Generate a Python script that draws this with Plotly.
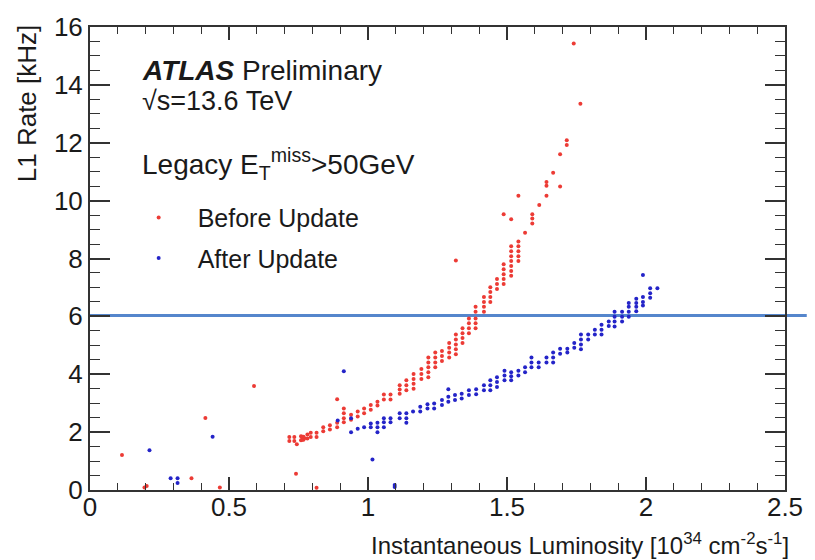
import plotly.graph_objects as go

# ---------------- data ----------------
# Before Update (red): x column positions and the rates observed at each
red_col_x = [0.115, 0.196, 0.204, 0.365, 0.415, 0.467, 0.590, 0.717, 0.735, 0.741,
             0.744, 0.759, 0.763, 0.768, 0.771, 0.782, 0.794, 0.815, 0.839, 0.863,
             0.889, 0.913, 0.939, 0.963, 0.986, 1.010, 1.034, 1.057, 1.081, 1.114,
             1.138, 1.164, 1.192, 1.217, 1.242, 1.266, 1.292, 1.316, 1.340, 1.363,
             1.387, 1.417, 1.440, 1.464, 1.488, 1.515, 1.541, 1.565, 1.591, 1.616,
             1.642, 1.666, 1.691, 1.715, 1.740, 1.764]
red_col_y = [[1.21], [0.09], [0.14], [0.41], [2.49], [0.09], [3.59], [1.83, 1.69], [1.83, 1.69], [0.56],
             [1.58], [1.86, 1.72], [1.84, 1.74], [1.84, 1.74], [1.79], [1.92, 1.78], [1.98, 1.83], [1.98, 1.83, 0.08], [2.17, 2.03], [2.24, 2.09],
             [3.14, 2.32, 2.17], [2.82, 2.65, 2.48, 2.34], [2.60, 2.43], [2.71, 2.54], [2.82, 2.65], [2.94, 2.77], [3.05, 2.92], [3.30, 3.13], [3.30, 3.13], [3.62, 3.47, 3.33],
             [3.79, 3.62, 3.45], [4.01, 3.84, 3.67, 3.50], [4.18, 4.01, 3.84], [4.58, 4.41, 4.24, 4.07, 3.90], [4.75, 4.58, 4.41, 4.24], [4.80, 4.63, 4.46], [5.08, 4.92, 4.75, 4.58], [7.93, 5.37, 5.20, 5.03, 4.86, 4.69], [5.59, 5.42, 5.25, 5.08], [5.93, 5.76, 5.59, 5.42],
             [6.33, 6.16, 5.93, 5.76, 5.59], [6.67, 6.50, 6.33, 6.16], [7.01, 6.84, 6.67, 6.50], [7.29, 7.12, 6.95], [9.53, 7.80, 7.63, 7.46, 7.29, 7.12], [9.36, 8.42, 8.25, 8.08, 7.91, 7.74, 7.57, 7.40], [10.17, 8.59, 8.42, 8.25, 8.08, 7.91], [8.89], [9.53, 9.38, 9.21], [9.85],
             [10.64, 10.51, 10.17], [10.96], [11.60, 10.49], [12.09, 11.92], [15.43], [13.35]]

# After Update (blue)
blue_col_x = [0.214, 0.290, 0.315, 0.441, 0.891, 0.913, 0.939, 0.963, 0.986, 1.010,
              1.016, 1.034, 1.057, 1.081, 1.096, 1.114, 1.138, 1.162, 1.188, 1.214,
              1.238, 1.266, 1.289, 1.313, 1.337, 1.363, 1.389, 1.417, 1.440, 1.464,
              1.491, 1.515, 1.541, 1.565, 1.588, 1.614, 1.642, 1.666, 1.691, 1.717,
              1.742, 1.766, 1.792, 1.816, 1.840, 1.866, 1.887, 1.914, 1.938, 1.965,
              1.989, 2.015, 2.041]
blue_col_y = [[1.37], [0.41], [0.41, 0.24], [1.84], [2.40], [4.10], [2.48, 2.00], [2.12], [2.17], [2.30, 2.17],
              [1.05], [2.32, 2.17, 2.00], [2.48, 2.34, 2.17], [2.48, 2.34], [0.17, 0.10], [2.65, 2.48], [2.65, 2.48, 2.32], [2.71], [2.88, 2.71], [2.96, 2.82],
              [2.99, 2.82], [3.11, 2.94], [3.48, 3.22, 3.05], [3.28, 3.11], [3.33, 3.16], [3.45, 3.28], [3.48, 3.31], [3.62, 3.45], [3.79, 3.62, 3.45], [3.90, 3.73, 3.56],
              [4.12, 3.96, 3.79], [4.07, 3.93, 3.79], [4.12, 3.96], [4.24, 4.07], [4.58, 4.41, 4.24], [4.41, 4.24], [4.58, 4.41], [4.75, 4.58, 4.41], [4.88, 4.71], [4.88, 4.75],
              [5.08, 4.92], [5.37, 5.20, 5.03, 4.86], [5.37, 5.20], [5.54, 5.37], [5.71, 5.54, 5.37], [5.82, 5.67], [6.16, 5.99, 5.82, 5.65], [6.16, 5.99, 5.82], [6.46, 6.33, 6.16, 5.99], [6.61, 6.46, 6.33, 6.18],
              [7.43, 6.67, 6.50, 6.38], [6.97, 6.80, 6.64], [6.97]]

# reference rate line
rate_line_y = 6.03

x_ticks = [0, 0.5, 1, 1.5, 2, 2.5]
x_tick_text = ["0", "0.5", "1", "1.5", "2", "2.5"]
y_ticks = [0, 2, 4, 6, 8, 10, 12, 14, 16]
y_tick_text = ["0", "2", "4", "6", "8", "10", "12", "14", "16"]


def flatten(cx, cy):
    xs, ys = [], []
    for x, col in zip(cx, cy):
        for y in col:
            xs.append(x)
            ys.append(y)
    return xs, ys


red_x, red_y = flatten(red_col_x, red_col_y)
blue_x, blue_y = flatten(blue_col_x, blue_col_y)

# ---------------- layout helpers ----------------
W, H = 815, 560
L, R, T, B = 90, 793, 18, 490


def px(x):
    return (x - L) / (R - L)


def py(y):
    return (B - y) / (B - T)


FONT = "Liberation Sans, Arial, sans-serif"
TXT = "#1a1a1a"

fig = go.Figure()
fig.add_trace(go.Scatter(x=red_x, y=red_y, mode="markers", name="Before Update",
                         legendgroup="a",
                         marker=dict(color="#ec3b35", size=4, symbol="circle", line=dict(width=0))))
fig.add_trace(go.Scatter(x=blue_x, y=blue_y, mode="markers", name="After Update",
                         legendgroup="b",
                         marker=dict(color="#2424c8", size=4, symbol="circle", line=dict(width=0))))

fig.add_shape(type="line", xref="paper", yref="y", x0=0, x1=(W - L) / (R - L),
              y0=rate_line_y, y1=rate_line_y, layer="below",
              line=dict(color="#5586cc", width=3))

axis_common = dict(showgrid=False, zeroline=False, showline=True, mirror="ticks",
                   linecolor="#333", linewidth=2, ticks="inside", tickcolor="#333",
                   tickwidth=1.5, tickfont=dict(family=FONT, size=26, color=TXT))

fig.update_xaxes(range=[0, 2.5], tickmode="array", tickvals=x_ticks, ticktext=x_tick_text,
                 ticklen=13, ticklabelstandoff=-7,
                 minor=dict(dtick=0.1, ticks="inside", ticklen=7, tickcolor="#333", tickwidth=1.2, showgrid=False),
                 **axis_common)
fig.update_yaxes(range=[0, 16], tickmode="array", tickvals=y_ticks, ticktext=y_tick_text,
                 ticklen=20, minor=dict(dtick=0.5, ticks="inside", ticklen=10, tickcolor="#333", tickwidth=1.2, showgrid=False),
                 **axis_common)

ann = [
    dict(text="<b><i>ATLAS</i></b> Preliminary", x=px(141), y=py(62), size=28),
    dict(text="√s=13.6 TeV", x=px(141), y=py(93), size=27),
    dict(text="Legacy E<sub>T</sub><sup>miss</sup>>50GeV", x=px(141), y=py(158), size=28),
]
for a in ann:
    fig.add_annotation(text=a["text"], xref="paper", yref="paper", x=a["x"], y=a["y"],
                       xanchor="left", yanchor="middle", showarrow=False,
                       font=dict(family=FONT, size=a["size"], color=TXT))

# axis titles (ROOT style: right/top aligned)
fig.add_annotation(text="Instantaneous Luminosity [10<sup>34</sup> cm<sup>-2</sup>s<sup>-1</sup>]",
                   xref="paper", yref="paper", x=px(799), y=py(545), xanchor="right", yanchor="middle",
                   showarrow=False, font=dict(family=FONT, size=24, color=TXT))
fig.add_annotation(text="L1 Rate [kHz]", textangle=-90,
                   xref="paper", yref="paper", x=px(26), y=py(96), xanchor="center", yanchor="middle",
                   showarrow=False, font=dict(family=FONT, size=26, color=TXT))

fig.update_layout(
    width=W, height=H,
    margin=dict(l=L, r=W - R, t=T, b=H - B),
    paper_bgcolor="white", plot_bgcolor="white",
    showlegend=True,
    legend=dict(x=px(120), y=py(189), xanchor="left", yanchor="top",
                bgcolor="rgba(0,0,0,0)", borderwidth=0, tracegroupgap=5, itemwidth=68,
                font=dict(family=FONT, size=25, color=TXT), itemsizing="trace"),
    font=dict(family=FONT, color=TXT),
)

fig.write_html("out.html")
